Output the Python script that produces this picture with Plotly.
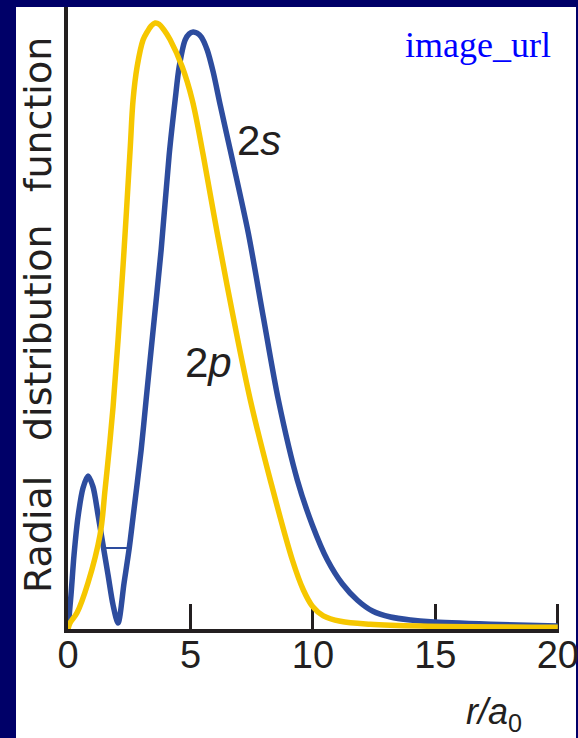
import plotly.graph_objects as go

# ---- data ----
r_2p = [0.000, 0.082, 0.368, 0.818, 1.309, 1.513, 1.677, 1.840, 2.045, 2.290, 2.536, 2.658, 2.822, 3.067,
        3.231, 3.395, 3.558, 3.722, 3.926, 4.172, 4.663, 5.072, 5.521, 6.094, 6.748, 7.444, 8.262, 9.162,
        9.611, 9.980, 10.429, 11.125, 12.352, 14.397, 20.000]
P_2p = [0.000, 0.010, 0.027, 0.077, 0.157, 0.232, 0.298, 0.370, 0.482, 0.632, 0.798, 0.882, 0.937, 0.982,
        0.995, 1.005, 1.010, 1.008, 0.998, 0.982, 0.937, 0.882, 0.790, 0.660, 0.520, 0.382, 0.248, 0.115,
        0.065, 0.038, 0.022, 0.013, 0.008, 0.005, 0.003]

r_2s = [0.000, 0.123, 0.245, 0.409, 0.613, 0.818, 1.022, 1.227, 1.431, 1.636, 1.840, 2.045, 2.290, 2.495,
        2.658, 2.986, 3.190, 3.436, 3.804, 4.131, 4.376, 4.540, 4.785, 4.949, 5.112, 5.276, 5.440, 5.685,
        5.930, 6.217, 6.626, 7.362, 7.975, 8.589, 9.366, 9.980, 10.593, 11.207, 11.820, 12.434, 13.170,
        13.988, 14.806, 17.260, 20.000]
P_2s = [0.000, 0.057, 0.123, 0.187, 0.235, 0.255, 0.237, 0.190, 0.140, 0.090, 0.040, 0.010, 0.077, 0.133,
        0.187, 0.298, 0.382, 0.482, 0.632, 0.790, 0.882, 0.937, 0.982, 0.992, 0.995, 0.993, 0.987, 0.965,
        0.928, 0.873, 0.798, 0.660, 0.520, 0.382, 0.248, 0.173, 0.115, 0.075, 0.048, 0.030, 0.020,
        0.015, 0.012, 0.008, 0.005]

bar_r = [1.43, 2.45]
bar_P = [0.135, 0.135]

x_ticks = [0, 5, 10, 15, 20]
x_ticklabels = ["0", "5", "10", "15", "20"]
y_title_words = ["Radial", "distribution", "function"]

# ---- colours ----
NAVY = "#000068"
BLUE = "#2d4c9e"
YELLOW = "#f6c700"
INK = "#231f20"

W, H = 578, 738
L, R, T, B = 68, 19, 7, 109
pw, ph = W - L - R, H - T - B
X_MAX = 20.05


def px_x(p):
    return (p - L) / pw


def px_y(p):
    return (H - B - p) / ph


fig = go.Figure()
fig.add_trace(go.Scatter(x=r_2s, y=P_2s, mode="lines",
                         line=dict(color=BLUE, width=5.5, shape="spline", smoothing=0.8),
                         hoverinfo="skip", showlegend=False))
fig.add_trace(go.Scatter(x=bar_r, y=bar_P, mode="lines", line=dict(color=BLUE, width=2),
                         hoverinfo="skip", showlegend=False))
fig.add_trace(go.Scatter(x=r_2p, y=P_2p, mode="lines",
                         line=dict(color=YELLOW, width=5.5, shape="spline", smoothing=1.0),
                         hoverinfo="skip", showlegend=False))

sans = "Liberation Sans Narrow, Arial Narrow, Liberation Sans, Arial"
tick_font = dict(family=sans, size=38, color=INK)

fig.update_layout(
    width=W, height=H,
    margin=dict(l=L, r=R, t=T, b=B, pad=0, autoexpand=False),
    paper_bgcolor=NAVY,
    plot_bgcolor="white",
    showlegend=False,
    xaxis=dict(range=[0, X_MAX], tickvals=x_ticks, ticktext=x_ticklabels, ticks="inside", ticklen=25,
               tickwidth=3, tickcolor=INK, showline=True, linewidth=4, linecolor=INK,
               showgrid=False, zeroline=False, tickfont=tick_font, layer="below traces",
               ticklabeloverflow="allow", ticklabelstandoff=-11, automargin=False, fixedrange=True),
    yaxis=dict(range=[0, 622 / 600], showline=True, linewidth=4, linecolor=INK, showticklabels=False,
               ticks="", showgrid=False, zeroline=False, layer="below traces", automargin=False,
               fixedrange=True),
    shapes=[dict(type="rect", xref="paper", yref="paper", x0=px_x(16), x1=px_x(576), y0=px_y(745), y1=px_y(7),
                 fillcolor="white", line=dict(width=0), layer="below")],
)

label_font = dict(family=sans, size=42, color=INK)
ann = []
word_centers = [535, 333, 115]
for word, cy in zip(y_title_words, word_centers):
    ann.append(dict(text=word, xref="paper", yref="paper", x=px_x(38), y=px_y(cy), textangle=-90,
                    showarrow=False, xanchor="center", yanchor="middle",
                    font=dict(family="DejaVu Sans", size=38, color=INK)))
ann.append(dict(text="2<i>s</i>", x=7.81, y=(629 - 140) / 600, xref="x", yref="y", showarrow=False,
                xanchor="center", yanchor="middle", font=label_font))
ann.append(dict(text="2<i>p</i>", x=5.73, y=(629 - 362) / 600, xref="x", yref="y", showarrow=False,
                xanchor="center", yanchor="middle", font=label_font))
ann.append(dict(text="<i>r/a</i><sub>0</sub>", xref="paper", yref="paper", x=px_x(494), y=px_y(714),
                showarrow=False, xanchor="center", yanchor="middle",
                font=dict(family=sans, size=36, color=INK)))
ann.append(dict(text="image_url", xref="paper", yref="paper", x=px_x(478), y=px_y(45), showarrow=False,
                xanchor="center", yanchor="middle",
                font=dict(family="Liberation Serif, Times New Roman, serif", size=36, color="#0000ff")))
fig.update_layout(annotations=ann)

fig.write_html("out.html")
